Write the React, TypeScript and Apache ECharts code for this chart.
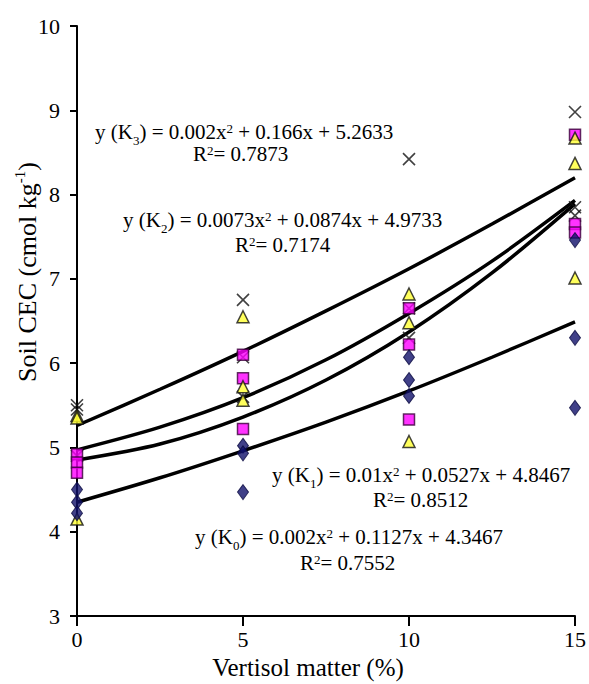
import React, { useEffect, useRef } from 'react';
import * as echarts from 'echarts';

// Vertisol matter (%) levels
const vertisolLevels = [0, 5, 10, 15];
// Observed soil CEC replicates per level (cmol kg-1)
const k0Obs = [[4.5, 4.35, 4.22], [5.02, 4.93, 4.47], [6.07, 5.8, 5.61], [7.46, 6.3, 5.47]];
const k1Obs = [[4.92, 4.82, 4.7], [6.1, 5.82, 5.22], [6.65, 6.22, 5.33], [8.71, 7.65, 7.55]];
const k2Obs = [[5.38, 5.35, 4.15], [6.55, 5.72, 5.56], [6.82, 6.48, 5.07], [8.67, 8.37, 7.01]];
const k3Obs = [[5.5, 5.45, 4.9], [6.75, 6.07, 5.6], [8.42, 6.65, 6.3], [8.98, 7.85, 7.75]];
// Trend lines
const trendX = [0, 2.5, 5, 7.5, 10, 12.5, 15];
const k0Trend = [4.35, 4.64, 4.96, 5.3, 5.67, 6.07, 6.49];
const k1Trend = [4.85, 5.04, 5.36, 5.8, 6.37, 7.07, 7.89];
const k2Trend = [4.97, 5.24, 5.59, 6.04, 6.59, 7.21, 7.93];
const k3Trend = [5.26, 5.69, 6.14, 6.62, 7.12, 7.65, 8.2];
// Equation labels
const eqK3 = ['3', '0.002x', ' + 0.166x + 5.2633', '0.7873'];
const eqK2 = ['2', '0.0073x', ' + 0.0874x + 4.9733', '0.7174'];
const eqK1 = ['1', '0.01x', ' + 0.0527x + 4.8467', '0.8512'];
const eqK0 = ['0', '0.002x', ' + 0.1127x + 4.3467', '0.7552'];

const FONT = 'Liberation Serif';

const toPoints = (obs: number[][]) =>
  obs.flatMap((reps, i) => reps.map((v) => [vertisolLevels[i], v]));
const toLine = (trend: number[]) => trend.map((v, i) => [trendX[i], v]);

const rich = {
  n: { fontSize: 21, fontFamily: FONT, color: '#000', lineHeight: 20 },
  sup: { fontSize: 13, fontFamily: FONT, color: '#000', verticalAlign: 'top', lineHeight: 20 },
  sub: { fontSize: 13, fontFamily: FONT, color: '#000', verticalAlign: 'bottom', lineHeight: 20, padding: [0, 0, -5, 0] },
};

const eqText = (eq: string[]) => `{n|y (K}{sub|${eq[0]}}{n|) = ${eq[1]}}{sup|2}{n|${eq[2]}}`;
const r2Text = (eq: string[]) => `{n|R}{sup|2}{n|= ${eq[3]}}`;

const textEl = (text: string, x: number, y: number) => ({
  type: 'text',
  x,
  y,
  style: { text, rich, verticalAlign: 'middle', align: 'left' },
  z: 10,
});

export default function App() {
  const ref = useRef<HTMLDivElement>(null);
  useEffect(() => {
    if (!ref.current) return;
    const chart = echarts.init(ref.current, null, { renderer: 'svg' });
    const lineSeries = (trend: number[]) => ({
      type: 'line',
      data: toLine(trend),
      smooth: 0.3,
      symbol: 'none',
      lineStyle: { color: '#000', width: 3.5 },
      z: 2,
    });
    chart.setOption({
      animation: false,
      backgroundColor: '#fff',
      textStyle: { fontFamily: FONT },
      grid: { left: 77, right: 11, top: 26, bottom: 68 },
      xAxis: {
        type: 'value',
        min: 0,
        max: 15,
        interval: 5,
        axisLine: { onZero: false, lineStyle: { color: '#000', width: 2 } },
        axisTick: { length: 10, lineStyle: { color: '#000', width: 2 } },
        axisLabel: { fontSize: 22, fontFamily: FONT, color: '#000', margin: 12 },
        splitLine: { show: false },
      },
      yAxis: {
        type: 'value',
        min: 3,
        max: 10,
        interval: 1,
        axisLine: { show: true, onZero: false, lineStyle: { color: '#000', width: 2 } },
        axisTick: { show: true, length: 7, lineStyle: { color: '#000', width: 2 } },
        axisLabel: { fontSize: 22, fontFamily: FONT, color: '#000', margin: 17 },
        splitLine: { show: false },
      },
      graphic: [
        textEl(eqText(eqK3), 95, 132),
        textEl(r2Text(eqK3), 193, 154),
        textEl(eqText(eqK2), 123, 220),
        textEl(r2Text(eqK2), 235, 245),
        textEl(eqText(eqK1), 272, 475),
        textEl(r2Text(eqK1), 373, 500),
        textEl(eqText(eqK0), 195, 537),
        textEl(r2Text(eqK0), 300, 563),
        {
          type: 'text',
          x: 308,
          y: 667,
          style: {
            text: '{a|Vertisol matter (%)}',
            align: 'center',
            verticalAlign: 'middle',
            rich: { a: { fontSize: 25, fontFamily: FONT, color: '#000' } },
          },
        },
        {
          type: 'text',
          x: 27,
          y: 272,
          rotation: Math.PI / 2,
          style: {
            text: '{a|Soil CEC (cmol kg}{s|-1}{a|)}',
            align: 'center',
            verticalAlign: 'middle',
            rich: {
              a: { fontSize: 26, fontFamily: FONT, color: '#000', lineHeight: 30 },
              s: { fontSize: 15, fontFamily: FONT, color: '#000', verticalAlign: 'top', lineHeight: 30 },
            },
          },
        },
      ],
      series: [
        lineSeries(k0Trend),
        lineSeries(k1Trend),
        lineSeries(k2Trend),
        lineSeries(k3Trend),
        {
          name: 'K3',
          type: 'scatter',
          data: toPoints(k3Obs),
          symbol: 'path://M0,0L10,10M10,0L0,10',
          symbolSize: 12,
          itemStyle: { color: 'transparent', borderColor: '#111', borderWidth: 1.6 },
          z: 3,
        },
        {
          name: 'K1',
          type: 'scatter',
          data: toPoints(k1Obs),
          symbol: 'rect',
          symbolSize: 11,
          itemStyle: { color: '#ff00ff', borderColor: '#3a003a', borderWidth: 1.5 },
          z: 4,
        },
        {
          name: 'K2',
          type: 'scatter',
          data: toPoints(k2Obs),
          symbol: 'triangle',
          symbolSize: [12, 12],
          itemStyle: { color: '#ffff33', borderColor: '#111', borderWidth: 1.5 },
          z: 5,
        },
        {
          name: 'K0',
          type: 'scatter',
          data: toPoints(k0Obs),
          symbol: 'diamond',
          symbolSize: [11, 15],
          itemStyle: { color: '#10106a', borderColor: '#0a0a40', borderWidth: 1 },
          z: 6,
        },
      ],
    });
    return () => chart.dispose();
  }, []);
  return (
    <div
      ref={ref}
      style={{ position: 'fixed', left: 0, top: 0, width: 589, height: 684, background: '#fff' }}
    />
  );
}
